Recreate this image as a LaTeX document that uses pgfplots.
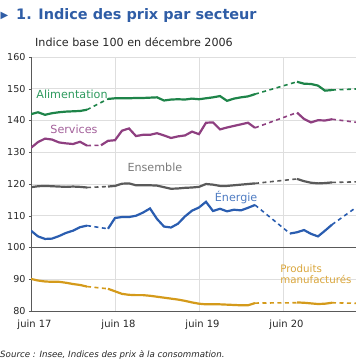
\documentclass[border=0pt]{standalone}
\usepackage{fontspec}
\setmainfont{DejaVu Sans}
\usepackage{pgfplots}
\pgfplotsset{compat=1.18}
\definecolor{titleblue}{HTML}{2F5DA6}
\definecolor{cAli}{HTML}{1E8449}
\definecolor{lAli}{HTML}{2E9A5E}
\definecolor{cSer}{HTML}{8E3F80}
\definecolor{lSer}{HTML}{A3609A}
\definecolor{cEns}{HTML}{5A5A5A}
\definecolor{lEns}{HTML}{7A7A7A}
\definecolor{cEne}{HTML}{2A5DB0}
\definecolor{lEne}{HTML}{4F7CC2}
\definecolor{cPro}{HTML}{D49A1A}
\definecolor{lPro}{HTML}{D9A53A}
\begin{document}
\begin{tikzpicture}[x=1bp,y=1bp]
\path[use as bounding box] (0,0) rectangle (356,-364);
\node[anchor=west, text=titleblue, font=\fontsize{10}{10}\selectfont, inner sep=0pt] at (0.5,-16) {▶};
\node[anchor=west, text=titleblue, font=\bfseries\fontsize{14.5}{16}\selectfont, inner sep=0pt] at (16,-16) {1. Indice des prix par secteur};
\node[anchor=west, font=\fontsize{11.2}{13}\selectfont, inner sep=0pt, text=black!85] at (35,-42) {Indice base 100 en décembre 2006};
\node[anchor=west, font=\itshape\fontsize{8.7}{10}\selectfont, inner sep=0pt, text=black!85] at (0,-355) {Source : Insee, Indices des prix à la consommation.};
\begin{axis}[
  at={(31bp,-311bp)}, anchor=south west,
  scale only axis, width=325bp, height=254bp,
  xmin=0, xmax=46.43, ymin=80, ymax=160,
  axis x line*=bottom, axis y line*=left,
  axis line style={-, draw=black!65, line width=0.8bp},
  ytick={80,90,...,160},
  xtick={0,12,24,36},
  xticklabels={juin 17,juin 18,juin 19,juin 20},
  xmajorgrids, ymajorgrids,
  grid style={draw=black!13, line width=0.6bp},
  /pgf/number format/assume math mode=true,
  tick label style={font=\fontsize{9.6}{11}\selectfont, text=black!85},
  xticklabel style={font=\fontsize{10}{11}\selectfont, xshift=3.5bp, yshift=-3bp},
  xtick style={draw=none},
  ytick style={draw=black!65},
  tick align=outside, major tick length=2bp,
  clip=true,
]
\addplot[black!65, line width=0.8bp, forget plot] coordinates {(0,100) (46.43,100)};
% Alimentation
\addplot[cAli, line width=2.2bp] coordinates {(0,142.0)(1,142.6)(2,141.8)(3,142.3)(4,142.6)(5,142.8)(6,142.9)(7,143.0)(8,143.4)};
\addplot[cAli, line width=1.6bp, dash pattern=on 4bp off 3.5bp] coordinates {(8,143.4)(11,146.8)};
\addplot[cAli, line width=2.2bp] coordinates {(11,146.8)(12,147.0)(13,147.0)(14,147.0)(15,147.1)(16,147.1)(17,147.2)(18,147.3)(19,146.3)(20,146.6)(21,146.7)(22,146.6)(23,146.9)(24,146.7)(25,147.0)(26,147.3)(27,147.7)(28,146.2)(29,146.9)(30,147.3)(31,147.6)(32,148.3)};
\addplot[cAli, line width=1.6bp, dash pattern=on 4bp off 3.5bp] coordinates {(32,148.3)(38,152.2)};
\addplot[cAli, line width=2.2bp] coordinates {(38,152.2)(39,151.6)(40,151.5)(41,151.0)(42,149.4)(43,149.6)};
\addplot[cAli, line width=1.6bp, dash pattern=on 4bp off 3.5bp] coordinates {(43,149.6)(47,150.0)};
% Services
\addplot[cSer, line width=2.2bp] coordinates {(0,131.4)(1,133.2)(2,134.3)(3,134.0)(4,133.1)(5,132.8)(6,132.6)(7,133.3)(8,132.1)};
\addplot[cSer, line width=1.6bp, dash pattern=on 4bp off 3.5bp] coordinates {(8,132.1)(10,132.2)};
\addplot[cSer, line width=2.2bp] coordinates {(10,132.2)(11,133.6)(12,133.8)(13,136.8)(14,137.5)(15,135.1)(16,135.5)(17,135.5)(18,136.0)(19,135.3)(20,134.5)(21,135.0)(22,135.3)(23,136.5)(24,135.7)(25,139.3)(26,139.4)(27,137.2)(28,137.8)(29,138.3)(30,138.8)(31,139.3)(32,137.7)};
\addplot[cSer, line width=1.6bp, dash pattern=on 4bp off 3.5bp] coordinates {(32,137.7)(38,142.5)};
\addplot[cSer, line width=2.2bp] coordinates {(38,142.5)(39,140.5)(40,139.4)(41,140.1)(42,140.0)(43,140.4)};
\addplot[cSer, line width=1.6bp, dash pattern=on 4bp off 3.5bp] coordinates {(43,140.4)(47,139.3)};
% Ensemble
\addplot[cEns, line width=2.2bp] coordinates {(0,119.0)(1,119.3)(2,119.4)(3,119.3)(4,119.2)(5,119.1)(6,119.2)(7,119.1)(8,118.9)};
\addplot[cEns, line width=1.6bp, dash pattern=on 4bp off 3.5bp] coordinates {(8,118.9)(11,119.2)};
\addplot[cEns, line width=2.2bp] coordinates {(11,119.2)(12,119.4)(13,120.1)(14,120.2)(15,119.6)(16,119.6)(17,119.6)(18,119.5)(19,119.0)(20,118.5)(21,118.6)(22,118.8)(23,118.9)(24,119.1)(25,120.0)(26,119.8)(27,119.4)(28,119.4)(29,119.6)(30,119.8)(31,120.0)(32,120.2)};
\addplot[cEns, line width=1.6bp, dash pattern=on 4bp off 3.5bp] coordinates {(32,120.2)(38,121.6)};
\addplot[cEns, line width=2.2bp] coordinates {(38,121.6)(39,120.9)(40,120.4)(41,120.2)(42,120.3)(43,120.5)};
\addplot[cEns, line width=1.6bp, dash pattern=on 4bp off 3.5bp] coordinates {(43,120.5)(47,120.7)};
% Energie
\addplot[cEne, line width=2.2bp] coordinates {(0,105.3)(1,103.5)(2,102.7)(3,102.8)(4,103.6)(5,104.6)(6,105.3)(7,106.4)(8,106.9)};
\addplot[cEne, line width=1.6bp, dash pattern=on 4bp off 3.5bp] coordinates {(8,106.9)(11,105.9)};
\addplot[cEne, line width=2.2bp] coordinates {(11,105.9)(12,109.3)(13,109.6)(14,109.6)(15,110.0)(16,111.0)(17,112.3)(18,109.0)(19,106.6)(20,106.3)(21,107.5)(22,109.8)(23,111.6)(24,112.6)(25,114.4)(26,111.5)(27,112.2)(28,111.4)(29,111.9)(30,111.7)(31,112.5)(32,113.4)};
\addplot[cEne, line width=1.6bp, dash pattern=on 4bp off 3.5bp] coordinates {(32,113.4)(37,104.4)};
\addplot[cEne, line width=2.2bp] coordinates {(37,104.4)(38,104.8)(39,105.5)(40,104.3)(41,103.5)(42,105.3)(43,107.2)};
\addplot[cEne, line width=1.6bp, dash pattern=on 4bp off 3.5bp] coordinates {(43,107.2)(47,113.5)};
% Produits manufactures
\addplot[cPro, line width=2.2bp] coordinates {(0,90.1)(1,89.6)(2,89.3)(3,89.2)(4,89.2)(5,88.9)(6,88.5)(7,88.2)(8,87.7)};
\addplot[cPro, line width=1.6bp, dash pattern=on 4bp off 3.5bp] coordinates {(8,87.7)(11,87.0)};
\addplot[cPro, line width=2.2bp] coordinates {(11,87.0)(12,86.2)(13,85.4)(14,85.1)(15,85.0)(16,85.0)(17,84.8)(18,84.5)(19,84.2)(20,83.9)(21,83.6)(22,83.2)(23,82.7)(24,82.3)(25,82.1)(26,82.1)(27,82.1)(28,82.0)(29,81.9)(30,81.8)(31,81.8)(32,82.5)};
\addplot[cPro, line width=1.6bp, dash pattern=on 4bp off 3.5bp] coordinates {(32,82.5)(38,82.6)};
\addplot[cPro, line width=2.2bp] coordinates {(38,82.7)(39,82.6)(40,82.4)(41,82.2)(42,82.3)(43,82.6)};
\addplot[cPro, line width=1.6bp, dash pattern=on 4bp off 3.5bp] coordinates {(43,82.6)(47,82.4)};
% labels
\node[text=lAli, font=\fontsize{11.2}{13}\selectfont] at (axis cs:5.86,148.3) {Alimentation};
\node[text=lSer, font=\fontsize{11.2}{13}\selectfont] at (axis cs:6.14,137.3) {Services};
\node[text=lEns, font=\fontsize{11.2}{13}\selectfont] at (axis cs:17.7,125.4) {Ensemble};
\node[text=lEne, font=\fontsize{11.2}{13}\selectfont] at (axis cs:29.3,115.9) {Énergie};
\node[text=lPro, font=\fontsize{10.3}{12}\selectfont, anchor=north west, align=left, inner sep=0pt] at (axis cs:35.6,94.5) {Produits\\[-1.5bp]manufacturés};
\end{axis}
\end{tikzpicture}
\end{document}
